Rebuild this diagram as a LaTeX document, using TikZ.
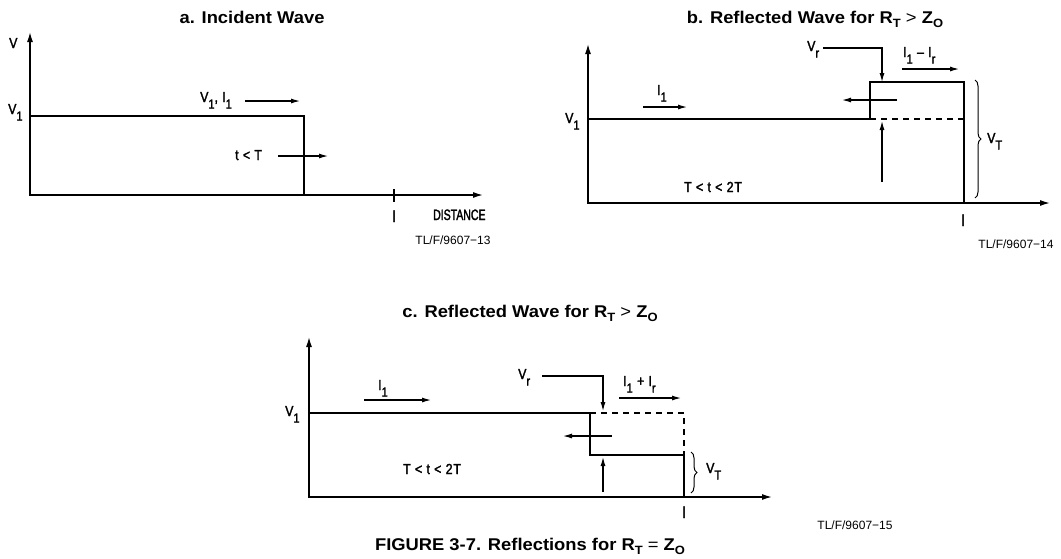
\documentclass[tikz,border=0pt]{standalone}
\usepackage{fontspec}
\setmainfont{Liberation Sans}
\newfontfamily\labfont[FakeStretch=0.85,LetterSpace=6,FakeBold=2]{Liberation Sans}
\newfontfamily\distfont[FakeStretch=0.7,FakeBold=2]{Liberation Sans}
\newfontfamily\ttlfont[FakeStretch=1.08]{Liberation Sans}
\newfontfamily\tlfont{Liberation Sans}
\usetikzlibrary{arrows.meta,decorations.pathreplacing}
\newcommand\lsub[1]{\raisebox{-0.45em}{\fontsize{13}{13}\selectfont #1}}
\newcommand\tsub[1]{\raisebox{-0.25em}{\fontsize{12}{12}\selectfont #1}}
\newcommand\thin[1]{{\mdseries #1}}
\tikzset{
  ln/.style={line width=1.4pt},
  axes/.style={line width=1.4pt,{Latex[length=10pt,width=6pt]}-{Latex[length=10pt,width=6pt]}},
  arr/.style={line width=1.1pt,-{Latex[length=9pt,width=5pt]}},
  lab/.style={font=\labfont\fontsize{14.5}{15}\selectfont, inner sep=0pt},
  lmark/.style={font=\labfont\fontsize{16}{16}\selectfont, inner sep=0pt},
  dist/.style={font=\distfont\fontsize{15}{15}\selectfont, inner sep=0pt},
  ttl/.style={font=\ttlfont\bfseries\fontsize{17}{20}\selectfont, inner sep=0pt, anchor=base},
  tl/.style={font=\tlfont\fontsize{12}{12}\selectfont, inner sep=0pt},
  dsh/.style={line width=1.4pt, dash pattern=on 6pt off 5pt},
  brc/.style={line width=1pt, decorate, decoration={brace,amplitude=6pt}},
}
\begin{document}
\begin{tikzpicture}[x=1pt,y=-1pt]
\useasboundingbox (0,0) rectangle (1061,558);
% ---------------- panel a ----------------
\node[ttl] (ta) at (252,23) {a. Incident Wave};
\coordinate (aO) at (30,195);
\coordinate (aY) at (30,32);
\coordinate (aX) at (483,195);
\draw[axes] (aY) -- (aO) -- (aX);
\coordinate (aT1) at (30,116);
\coordinate (aT2) at (304,116);
\coordinate (aT3) at (304,195);
\draw[ln] (aT1) -- (aT2) -- (aT3);
\coordinate (aK1) at (394,189);
\coordinate (aK2) at (394,202);
\draw[ln] (aK1) -- (aK2);
\node[lab,anchor=base west] (aV) at (9,48) {V};
\node[lab,anchor=base west] (aV1) at (8,114) {V\lsub{1}};
\node[lab,anchor=base west] (aVI) at (200,102) {V\lsub{1}, I\lsub{1}};
\coordinate (aA1) at (245,101);
\coordinate (aA2) at (300,101);
\draw[arr] (aA1) -- (aA2);
\node[lab,anchor=base west] (atT) at (235,160) {t < T};
\coordinate (aB1) at (278,156);
\coordinate (aB2) at (328,156);
\draw[arr] (aB1) -- (aB2);
\node[lmark,anchor=base] (al) at (394,222) {l};
\node[dist,anchor=base west] (adist) at (433,220) {DISTANCE};
\node[tl] (atl) at (453,240) {TL/F/9607−13};
% ---------------- panel b ----------------
\node[ttl] (tb) at (815,23) {b. Reflected Wave for R\tsub{T} \thin{>} Z\tsub{O}};
\coordinate (bO) at (588,203);
\coordinate (bY) at (588,44);
\coordinate (bX) at (1050,203);
\draw[axes] (bY) -- (bO) -- (bX);
\coordinate (bP1) at (588,119);
\coordinate (bP2) at (870,119);
\coordinate (bP3) at (870,82);
\coordinate (bP4) at (964,82);
\coordinate (bP5) at (964,203);
\coordinate (bP6) at (964,119);
\draw[ln] (bP1) -- (bP2) -- (bP3) -- (bP4) -- (bP5);
\draw[dsh] (bP2) -- (bP6);
\node[lab,anchor=base west] (bV1) at (565,123) {V\lsub{1}};
\node[lab,anchor=base west] (bI1) at (657,95) {I\lsub{1}};
\coordinate (bA1) at (643,107);
\coordinate (bA2) at (687,107);
\draw[arr] (bA1) -- (bA2);
\node[lab,anchor=base west] (bTt) at (684,192) {T < t < 2T};
\node[lab,anchor=base west] (bVr) at (807,51) {V\lsub{r}};
\coordinate (bR1) at (823,48);
\coordinate (bR2) at (882,48);
\coordinate (bR3) at (882,82);
\draw[arr] (bR1) -- (bR2) -- (bR3);
\coordinate (bL1) at (897,100);
\coordinate (bL2) at (842,100);
\draw[arr] (bL1) -- (bL2);
\node[lab,anchor=base west] (bIIr) at (903,57) {I\lsub{1} – I\lsub{r}};
\coordinate (bC1) at (902,69);
\coordinate (bC2) at (959,69);
\draw[arr] (bC1) -- (bC2);
\coordinate (bU1) at (882,182);
\coordinate (bU2) at (882,121);
\draw[arr] (bU1) -- (bU2);
\coordinate (bB1) at (975,80);
\coordinate (bB2) at (975,198);
\draw[brc] (bB1) -- (bB2);
\node[lab,anchor=base west] (bVT) at (987,143) {V\lsub{T}};
\node[lmark,anchor=base] (bl) at (963,226) {l};
\node[tl] (btl) at (1016,244) {TL/F/9607−14};
% ---------------- panel c ----------------
\node[ttl] (tc) at (530,317) {c. Reflected Wave for R\tsub{T} \thin{>} Z\tsub{O}};
\coordinate (cO) at (309,497);
\coordinate (cY) at (309,337);
\coordinate (cX) at (772,497);
\draw[axes] (cY) -- (cO) -- (cX);
\coordinate (cP1) at (309,413);
\coordinate (cP2) at (590,413);
\coordinate (cP3) at (590,455);
\coordinate (cP4) at (684,455);
\coordinate (cP5) at (684,497);
\coordinate (cP6) at (684,413);
\draw[ln] (cP1) -- (cP2) -- (cP3) -- (cP4) -- (cP5);
\draw[dsh] (cP2) -- (cP6) -- (cP4);
\node[lab,anchor=base west] (cV1) at (285,416) {V\lsub{1}};
\node[lab,anchor=base west] (cI1) at (378,390) {I\lsub{1}};
\coordinate (cA1) at (364,400);
\coordinate (cA2) at (431,400);
\draw[arr] (cA1) -- (cA2);
\node[lab,anchor=base west] (cVr) at (518,379) {V\lsub{r}};
\coordinate (cR1) at (542,376);
\coordinate (cR2) at (603,376);
\coordinate (cR3) at (603,411);
\draw[arr] (cR1) -- (cR2) -- (cR3);
\node[lab,anchor=base west] (cIIr) at (623,386) {I\lsub{1} + I\lsub{r}};
\coordinate (cC1) at (619,398);
\coordinate (cC2) at (681,398);
\draw[arr] (cC1) -- (cC2);
\coordinate (cL1) at (612,436);
\coordinate (cL2) at (563,436);
\draw[arr] (cL1) -- (cL2);
\coordinate (cU1) at (603,492);
\coordinate (cU2) at (603,457);
\draw[arr] (cU1) -- (cU2);
\node[lab,anchor=base west] (cTt) at (403,474) {T < t < 2T};
\coordinate (cB1) at (691,452);
\coordinate (cB2) at (691,493);
\draw[brc] (cB1) -- (cB2);
\node[lab,anchor=base west] (cVT) at (706,473) {V\lsub{T}};
\node[lmark,anchor=base] (cl) at (684,518) {l};
\node[tl] (ctl) at (855,525) {TL/F/9607−15};
\node[ttl] (cap) at (530,550) {FIGURE 3-7. Reflections for R\tsub{T} \thin{=} Z\tsub{O}};
\end{tikzpicture}
\end{document}
